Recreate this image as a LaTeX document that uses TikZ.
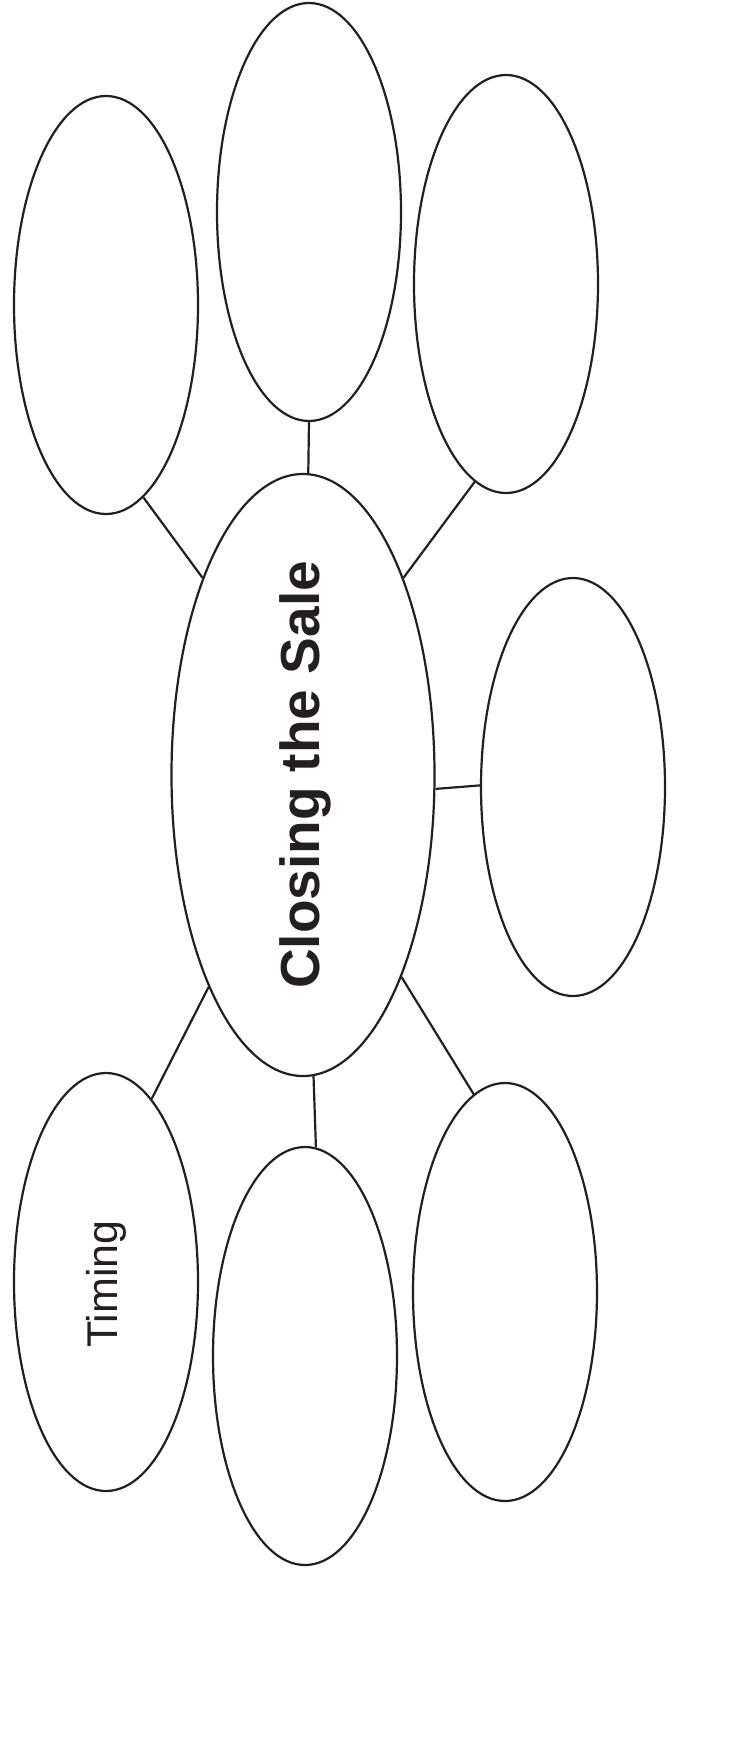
\documentclass[tikz,border=0pt]{standalone}
\usepackage{fontspec}
\setmainfont{Liberation Sans}
\usetikzlibrary{shapes.geometric}
\definecolor{ink}{RGB}{35,31,32}
\begin{document}
\begin{tikzpicture}[x=1pt,y=-1pt,
  bubble/.style={ellipse,draw=ink,line width=2.2pt,minimum width=184pt,minimum height=418pt,inner sep=0pt},
  hub/.style={ellipse,draw=ink,line width=2.2pt,minimum width=263pt,minimum height=602pt,inner sep=0pt},
  link/.style={draw=ink,line width=2.2pt}]
\useasboundingbox (0,0) rectangle (744,1743);
\node[hub] (c) at (303,775) {};
\node[rotate=90,text=ink,font=\fontsize{55}{60}\selectfont\bfseries] (title) at (305,775) {Closing the Sale};
\node[bubble] (tl) at (106,305) {};
\node[bubble] (tm) at (309,212) {};
\node[bubble] (tr) at (506,284) {};
\node[bubble] (r) at (573,787) {};
\node[bubble] (bl) at (106,1282) {};
\node[rotate=90,text=ink,font=\fontsize{43}{48}\selectfont] (timing) at (106,1284) {Timing};
\node[bubble] (bm) at (305,1356) {};
\node[bubble] (br) at (505,1292) {};
\draw[link] (tl.-79.1) -- (c.117.1);
\draw[link] (tm.-90.8) -- (c.89.4);
\draw[link] (tr.-99.8) -- (c.63.2);
\draw[link] (r.179.4) -- (c.-6);
\draw[link] (br.99.6) -- (c.-64.4);
\draw[link] (bm.87.8) -- (c.-88.7);
\draw[link] (bl.76.2) -- (c.-114.6);
\end{tikzpicture}
\end{document}
